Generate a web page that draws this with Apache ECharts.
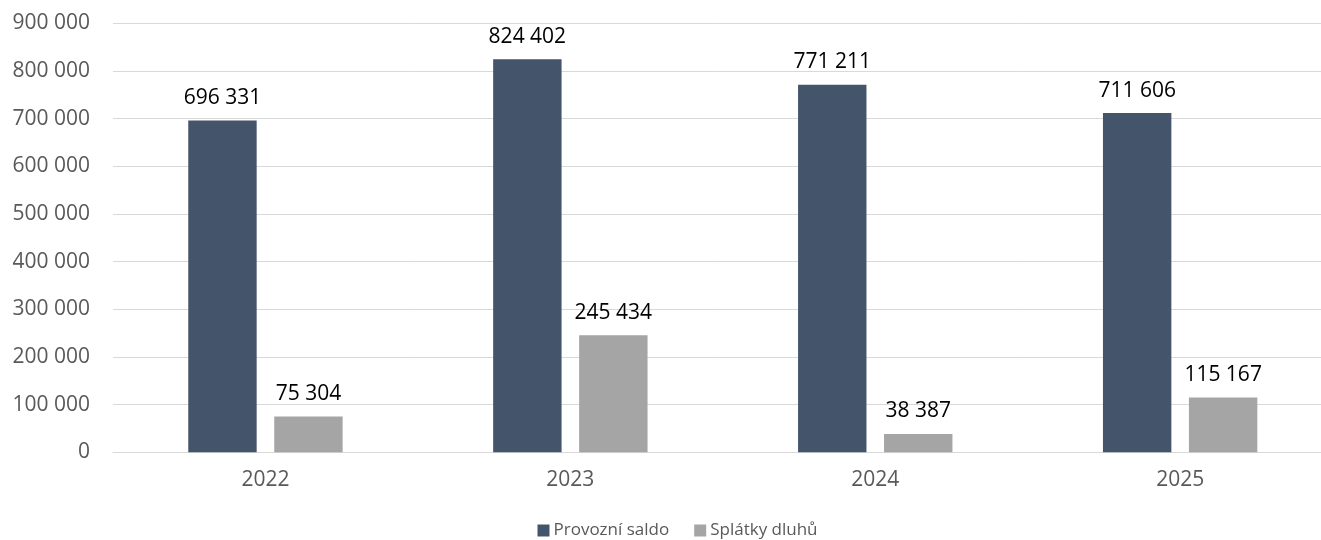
<!DOCTYPE html>
<html>
<head>
<meta charset="utf-8">
<script src="https://cdn.jsdelivr.net/npm/echarts@6/dist/echarts.min.js"></script>
<style>html,body{margin:0;padding:0;background:#fff;}#c{width:1321px;height:540px;}</style>
</head>
<body>
<div id="c"></div>
<script>
const categories = ['2022', '2023', '2024', '2025'];
const provozniSaldo = [696331, 824402, 771211, 711606];
const splatkyDluhu = [75304, 245434, 38387, 115167];
const seriesNames = ['Provozní saldo', 'Splátky dluhů'];

function fmt(v) { return String(v).replace(/\B(?=(\d{3})+(?!\d))/g, ' '); }

const FONT = 'Open Sans';
const chart = echarts.init(document.getElementById('c'), null, {renderer: 'canvas'});
chart.setOption({
  animation: false,
  backgroundColor: '#ffffff',
  textStyle: {fontFamily: FONT},
  grid: {left: 113, width: 1219.6, top: 23.3, height: 429, containLabel: false, outerBoundsMode: 'none'},
  legend: {
    data: seriesNames,
    left: 537.5, top: 522, padding: 0,
    itemWidth: 12, itemHeight: 12, itemGap: 25,
    icon: 'rect',
    textStyle: {fontFamily: FONT, fontSize: 17, color: '#595959', padding: [0, 0, 0, -1]}
  },
  xAxis: {
    type: 'category',
    data: categories,
    axisLine: {show: true, lineStyle: {color: '#D9D9D9', width: 1}},
    axisTick: {show: false},
    axisLabel: {fontFamily: FONT, fontSize: 21, color: '#595959', margin: 17}
  },
  yAxis: {
    type: 'value',
    min: 0, max: 900000, interval: 100000,
    axisLine: {show: false},
    axisTick: {show: false},
    splitLine: {lineStyle: {color: '#D9D9D9', width: 1}},
    axisLabel: {fontFamily: FONT, fontSize: 21, color: '#595959', margin: 23, formatter: fmt}
  },
  series: [
    {
      name: seriesNames[0], type: 'bar', data: provozniSaldo,
      barWidth: 68.4, barGap: '25.7%',
      itemStyle: {color: '#44546A'},
      label: {show: true, position: 'top', distance: 12, fontFamily: FONT, fontSize: 21, color: '#000000', formatter: p => fmt(p.value)}
    },
    {
      name: seriesNames[1], type: 'bar', data: splatkyDluhu,
      barWidth: 68.4,
      itemStyle: {color: '#A5A5A5'},
      label: {show: true, position: 'top', distance: 12, fontFamily: FONT, fontSize: 21, color: '#000000', formatter: p => fmt(p.value)}
    }
  ]
});
</script>
</body>
</html>
